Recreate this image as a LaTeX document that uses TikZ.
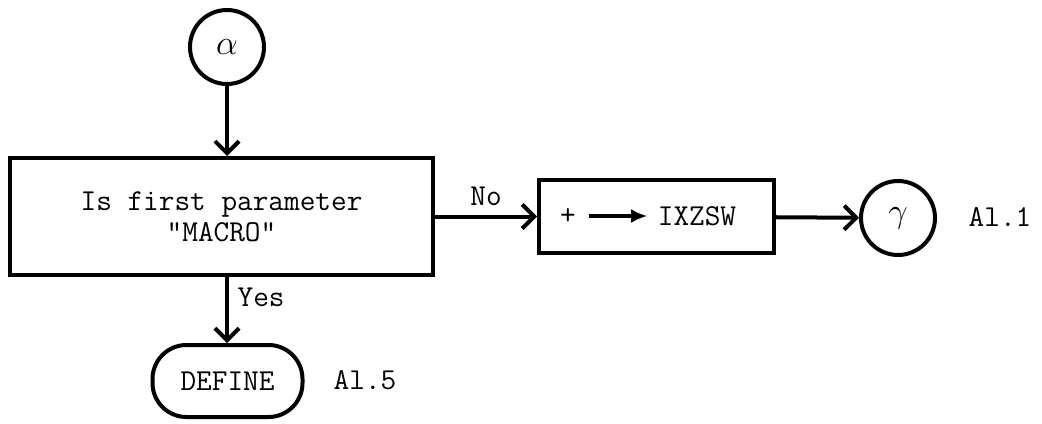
\documentclass[tikz,border=0pt]{standalone}
\usetikzlibrary{arrows.meta,positioning}

\begin{document}
\begin{tikzpicture}[
    x=0.5pt, y=-0.5pt,
    >={Straight Barb[length=6pt,width=12pt]},
    line width=2pt,
    font=\fontsize{15.2}{15.5}\selectfont\ttfamily,
    connector/.style={draw, circle, minimum size=37pt, inner sep=0pt, font=\LARGE},
    test/.style={draw, minimum width=211.5pt, minimum height=58.5pt, align=center, inner sep=0pt},
    action/.style={draw, minimum width=117.5pt, minimum height=36.5pt, inner sep=0pt},
    terminal/.style={draw, rounded corners=17pt, minimum width=75pt, minimum height=36pt, inner sep=0pt},
    note/.style={inner sep=1pt}
]
\useasboundingbox (0,0) rectangle (1042,423);

\node[connector] (alpha) at (227,47) {$\alpha$};
\node[test] (macro) at (221.5,216.5) {Is first parameter\\"MACRO"};
\node[action] (setsw) at (656.5,216.5) {};
\node (plus) at (568,216) {+};
\node (ixzsw) at (697,216) {IXZSW};
\node[connector] (gamma) at (898,218) {$\gamma$};
\node[note] (refa) at (1000,217) {Al.1};
\node[terminal] (define) at (227.5,381) {DEFINE};
\node[note] (refb) at (365,380) {Al.5};

\draw[->] (alpha) -- (alpha |- macro.north);
\draw[->] (macro.east |- setsw) -- node[above=1pt] {No} (setsw);
\draw[-{Latex[length=8pt,width=7pt]}, line width=1.8pt, shorten <=2pt, shorten >=1pt] (plus) -- (ixzsw);
\draw[->] (setsw) -- (gamma);
\draw[->] (alpha |- macro.south) -- node[pos=0.3, right=1pt] {Yes} (alpha |- define.north);
\end{tikzpicture}
\end{document}
